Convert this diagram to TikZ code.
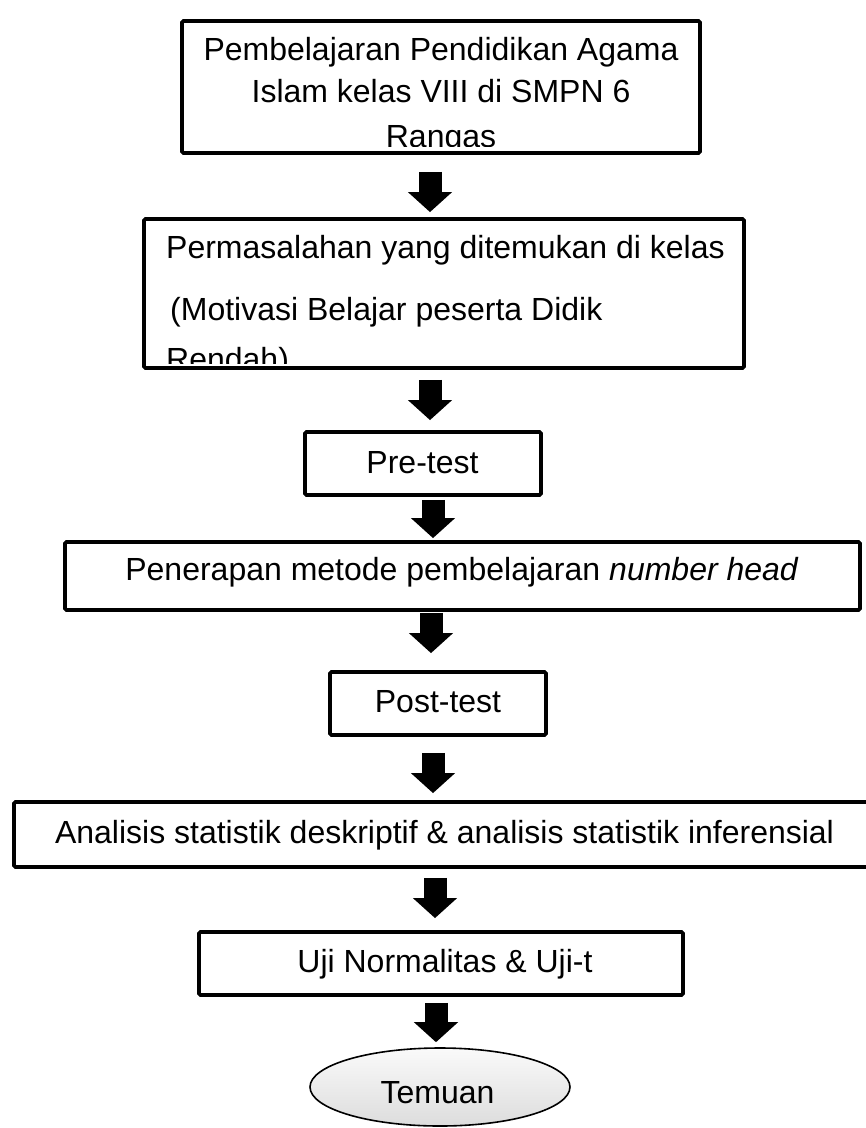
\documentclass[tikz,border=0pt]{standalone}
\usepackage{fontspec}
\setmainfont{Liberation Sans}
\usetikzlibrary{arrows.meta,shapes.geometric}
\begin{document}
\begin{tikzpicture}[x=1pt,y=-1pt,
 boxnode/.style={draw=black,line width=3.8pt,rounded corners=1.5pt,inner sep=0pt},
 txt/.style={font=\fontsize{32}{38}\selectfont,inner sep=0pt,anchor=base},
 txtl/.style={font=\fontsize{32}{38}\selectfont,inner sep=0pt,anchor=base west},
 fatarrow/.style={line width=23pt,-{Triangle[width=43pt,length=20pt]}}
]
\useasboundingbox[fill=white] (0,0) rectangle (866,1128);
% boxes
\node[boxnode,minimum width=518pt,minimum height=132pt] (b1) at (441,87) {};
\node[boxnode,minimum width=600pt,minimum height=149pt] (b2) at (444,293.5) {};
\node[boxnode,minimum width=236pt,minimum height=63pt] (b3) at (423,463.5) {};
\node[boxnode,minimum width=795pt,minimum height=68pt] (b4) at (462.5,576) {};
\node[boxnode,minimum width=216pt,minimum height=63pt] (b5) at (438,703.5) {};
\node[boxnode,minimum width=864pt,minimum height=65pt] (b6) at (446,834.5) {};
\node[boxnode,minimum width=484pt,minimum height=63pt] (b7) at (441,963.5) {};
\node[ellipse,draw=black,line width=1.6pt,minimum width=260pt,minimum height=78pt,
      inner sep=0pt,top color=gray!4,bottom color=gray!27] (b8) at (440,1087) {};
% texts
\node[txt] (t1a) at (441,60) {Pembelajaran Pendidikan Agama};
\node[txt] (t1b) at (441,102) {Islam kelas VIII di SMPN 6};
\begin{scope}
 \clip (182,100) rectangle (700,146);
 \node[txt] (t1c) at (441,147) {Rangas};
\end{scope}
\node[txtl] (t2a) at (166,258) {Permasalahan yang ditemukan di kelas};
\node[txtl] (t2b) at (170,320) {(Motivasi Belajar peserta Didik};
\begin{scope}
 \clip (144,320) rectangle (744,363);
 \node[txtl] (t2c) at (166,370) {Rendah)};
\end{scope}
\node[txt] (t3) at (422.5,473) {Pre-test};
\node[txt] (t4) at (462,580) {Penerapan metode pembelajaran \textit{number head}};
\node[txt] (t5) at (438,712) {Post-test};
\node[txt] (t6) at (444.5,843) {Analisis statistik deskriptif \& analisis statistik inferensial};
\node[txt] (t7) at (445,972) {Uji Normalitas \& Uji-t};
\node[txt] (t8) at (437.5,1103) {Temuan};
% arrow axes
\coordinate (a1) at (430,0);
\coordinate (a2) at (430,0);
\coordinate (a3) at (433,0);
\coordinate (a4) at (431,0);
\coordinate (a5) at (433,0);
\coordinate (a6) at (435,0);
\coordinate (a7) at (436,0);
% arrows
\draw[fatarrow,shorten <=17pt,shorten >=5pt] (b1.south -| a1) -- (b2.north -| a1);
\draw[fatarrow,shorten <=10pt,shorten >=10pt] (b2.south -| a2) -- (b3.north -| a2);
\draw[fatarrow,shorten <=3pt,shorten >=2pt] (b3.south -| a3) -- (b4.north -| a3);
\draw[fatarrow,shorten <=1pt,shorten >=17pt] (b4.south -| a4) -- (b5.north -| a4);
\draw[fatarrow,shorten <=16pt,shorten >=7pt] (b5.south -| a5) -- (b6.north -| a5);
\draw[fatarrow,shorten <=9pt,shorten >=12pt] (b6.south -| a6) -- (b7.north -| a6);
\draw[fatarrow,shorten <=6pt,shorten >=5pt] (b7.south -| a7) -- (b8.north -| a7);
\end{tikzpicture}
\end{document}
